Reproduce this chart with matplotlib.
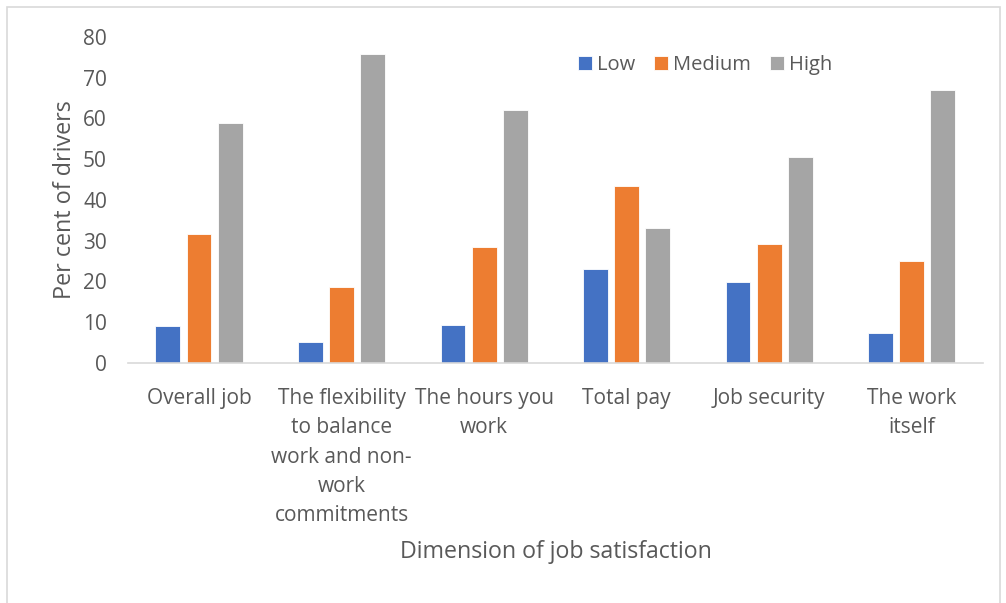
import matplotlib.pyplot as plt
import numpy as np
from matplotlib.patches import Rectangle

plt.rcParams['font.family'] = ['Open Sans', 'DejaVu Sans']

categories = ['Overall job',
              'The flexibility\nto balance\nwork and non-\nwork\ncommitments',
              'The hours you\nwork',
              'Total pay',
              'Job security',
              'The work\nitself']
low = [9.1, 5.2, 9.3, 23.0, 19.9, 7.4]
medium = [31.6, 18.6, 28.4, 43.4, 29.1, 25.1]
high = [58.8, 75.9, 62.0, 33.0, 50.5, 66.9]

text_grey = '#595959'

fig = plt.figure(figsize=(10.06, 6.03), dpi=100)
ax = fig.add_axes([0.127, 0.398, 0.85, 0.541])

x = np.arange(len(categories))
w = 0.175
step = 0.218
ax.bar(x - step, low, w, color='#4472C4', edgecolor='white', linewidth=0.6, label='Low')
ax.bar(x, medium, w, color='#ED7D31', edgecolor='white', linewidth=0.6, label='Medium')
ax.bar(x + step, high, w, color='#A5A5A5', edgecolor='white', linewidth=0.6, label='High')

ax.set_xlim(-0.5, len(categories) - 0.5)
ax.set_ylim(0, 80)
ax.set_yticks(range(0, 81, 10))
ax.set_xticks(x)
ax.set_xticklabels(categories, linespacing=1.52, va='top')
ax.tick_params(axis='both', length=0, colors=text_grey, labelsize=15)
ax.tick_params(axis='x', pad=18)
ax.tick_params(axis='y', pad=15)

for side in ['top', 'right', 'left']:
    ax.spines[side].set_visible(False)
ax.spines['bottom'].set_color('#D9D9D9')
ax.spines['bottom'].set_linewidth(1.2)

ax.set_ylabel('Per cent of drivers', color=text_grey, fontsize=16.8, labelpad=4)
fig.text(0.553, 0.084, 'Dimension of job satisfaction', ha='center', va='center',
         color=text_grey, fontsize=16.7)

leg = ax.legend(loc='upper left', bbox_to_anchor=(0.505, 1.0), ncol=3, frameon=False,
                fontsize=14.5, handlelength=0.7, handleheight=0.7,
                handletextpad=0.25, columnspacing=0.95)
for t in leg.get_texts():
    t.set_color(text_grey)

# light frame around the chart area
fig.patches.append(Rectangle((7 / 1006, -0.05), 993 / 1006, 1 - 7 / 603 + 0.05,
                             transform=fig.transFigure, fill=False,
                             edgecolor='#D9D9D9', linewidth=1.2))

fig.savefig('out.png', dpi=100)
